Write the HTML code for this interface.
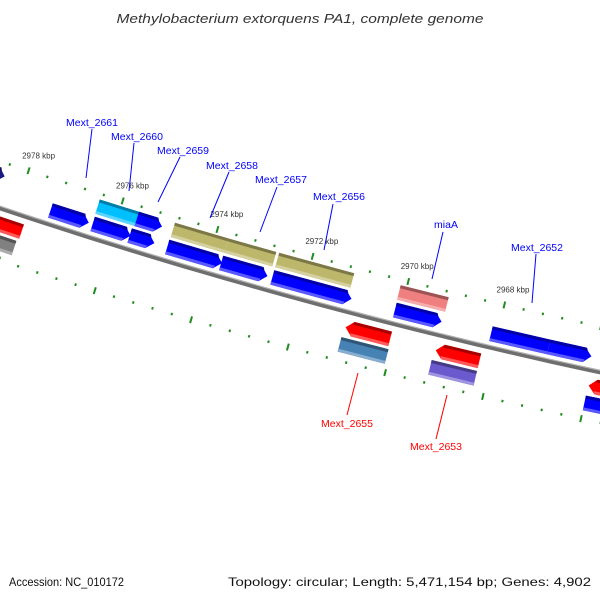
<!DOCTYPE html>
<html><head><meta charset="utf-8"><style>
html,body{margin:0;padding:0;background:#fff;}
svg{display:block;font-family:"Liberation Sans","DejaVu Sans",sans-serif;}
</style></head><body>
<svg id="map" width="600" height="600" viewBox="0 0 600 600" xmlns="http://www.w3.org/2000/svg">
<rect x="0" y="0" width="600" height="600" fill="#fff"/>
<text x="300" y="23" text-anchor="middle" font-size="13" font-style="italic" fill="#333" textLength="367" lengthAdjust="spacingAndGlyphs">Methylobacterium extorquens PA1, complete genome</text>
<g id="ticks"></g>
<g id="backbone"></g>
<g id="genes"></g>
<g id="labels"></g>
<text x="9" y="586" font-size="12" fill="#111" textLength="115" lengthAdjust="spacingAndGlyphs">Accession: NC_010172</text>
<text x="591" y="586" text-anchor="end" font-size="12" fill="#111" textLength="363" lengthAdjust="spacingAndGlyphs">Topology: circular; Length: 5,471,154 bp; Genes: 4,902</text>
</svg>
<script>
// ---- data (kbp) ----
const geneNames = ["navy-a","mext-2661","cyan-2660","blue-2660b","blue-2659","blue-2659b","olive-2658","olive-2657","olive-2656","blue-2658","blue-2657","blue-2656","miaA","blue-miaA","blue-2652a","blue-2652b","red-left","gray-left","red-2655","steel-2655","red-2653","purple-2653","red-right","blue-right"];
const geneStart = [2978.42,2976.52,2975.57,2975.64,2975.09,2975.14,2973.73,2972.73,2971.10,2973.72,2972.77,2971.02,2969.13,2969.15,2966.94,2966.06,2977.75,2977.79,2970.07,2970.05,2968.23,2968.23,2964.50,2964.50];
const geneEnd   = [2979.50,2977.33,2976.45,2976.44,2975.62,2975.66,2974.86,2973.73,2972.67,2974.87,2973.74,2972.67,2970.13,2970.12,2968.13,2966.94,2979.00,2979.00,2970.99,2971.02,2969.13,2969.16,2965.99,2966.00];
const geneRow   = [-31,-13,-31,-13,-31,-13,-31,-31,-31,-13,-13,-13,-31,-13,-13,-13,16,34,16,34,16,34,16,34];
const geneColor = ["#1a1a80","#0000ff","#00bfff","#0000ff","#0000ff","#0000ff","#bdb76b","#bdb76b","#bdb76b","#0000ff","#0000ff","#0000ff","#f08080","#0000ff","#0000ff","#0000ff","#ff0000","#808080","#ff0000","#4682b4","#ff0000","#6a5acd","#ff0000","#0000ff"];
const geneArrow = [1,1,0,1,1,1,0,0,0,1,1,1,0,1,0,1,1,0,1,0,1,0,1,0];
const tickMajor = [2964,2966,2968,2970,2972,2974,2976,2978,2980];
const tickLabelText = ["2978 kbp","2976 kbp","2974 kbp","2972 kbp","2970 kbp","2968 kbp"];
const tickLabelKbp = [2978,2976,2974,2972,2970,2968];

// ---- axis functions ----
const CX=1774, CY=-5104, R0=5600;
function ang(kbp){return (107.29+(kbp-2976)*0.51)*Math.PI/180;}
function pt(kbp,d){const a=ang(kbp),r=R0+d;return [CX+r*Math.cos(a),CY+r*Math.sin(a)];}
const NS="http://www.w3.org/2000/svg";
function mk(tag,attrs,parent){const e=document.createElementNS(NS,tag);for(const k in attrs)e.setAttribute(k,attrs[k]);parent.appendChild(e);return e;}
function ps(a){return a.map(p=>p[0].toFixed(1)+","+p[1].toFixed(1)).join(" ");}
function shade(hex,f){const n=parseInt(hex.slice(1),16);let r=n>>16,g=(n>>8)&255,b=n&255;
 if(f<0){r=r*(1+f);g=g*(1+f);b=b*(1+f);}else{r=r+(255-r)*f;g=g+(255-g)*f;b=b+(255-b)*f;}
 return "rgb("+Math.round(r)+","+Math.round(g)+","+Math.round(b)+")";}

// backbone
const bb=document.getElementById('backbone');
function arcPath(d,k1,k2,n){const a=[];for(let i=0;i<=n;i++){a.push(pt(k1+(k2-k1)*i/n,d));}return "M"+a.map(p=>p[0].toFixed(1)+" "+p[1].toFixed(1)).join(" L");}
let e=mk('path',{d:arcPath(0.8,2964,2980,40),fill:'none',stroke:'#6e6e6e','stroke-width':4},bb);


e=mk('path',{d:arcPath(-1.3,2964,2980,40),fill:'none',stroke:'#b0b0b0','stroke-width':1.2},bb);



// ticks
const tg=document.getElementById('ticks');
[-44,50].forEach(ring=>{
 for(let i=0;i<=40;i++){
  const k=2964+i*0.4;
  const major=tickMajor.some(m=>Math.abs(m-k)<1e-6);
  const L=major?7:2.5;
  const p1=pt(k,ring-L/2),p2=pt(k,ring+L/2);
  const t=mk('line',{x1:p1[0],y1:p1[1],x2:p2[0],y2:p2[1],stroke:'#1e8c1e','stroke-width':2},tg);
  
  
 }
});
tickLabelKbp.forEach((k,i)=>{
 const p=pt(k,-60);
 const t=mk('text',{x:p[0]+5,y:p[1]+3,'text-anchor':'middle','font-size':8,fill:'#333'},tg);
 t.textContent=tickLabelText[i];
 
 
});

// genes
const gg=document.getElementById('genes');
const H=15, AH=0.15;
geneStart.forEach((s,i)=>{
 const en=geneEnd[i], d=geneRow[i], up=d<0, c=geneColor[i];
 const t=d-H/2,b=d+H/2;
 let poly;
 if(geneArrow[i]){
  if(up){ // points toward lower kbp (right)
   poly=[pt(en,t),pt(s+AH,t),pt(s,d),pt(s+AH,b),pt(en,b)];
  } else {
   poly=[pt(s,t),pt(en-AH,t),pt(en,d),pt(en-AH,b),pt(s,b)];
  }
 } else poly=[pt(en,t),pt(s,t),pt(s,b),pt(en,b)];
 const g=mk('g',{},gg);
 
 
 mk('polygon',{points:ps(poly),fill:c},g);
 // top dark band
 const tb=[pt(en,t),pt(s+(geneArrow[i]&&up?AH*0.8:0),t),pt(s+(geneArrow[i]&&up?AH*0.6:0),t+3),pt(en-(geneArrow[i]&&!up?AH*0.6:0),t+3)];
 if(!up&&geneArrow[i]){tb[0]=pt(s,t);tb[1]=pt(en-AH,t);tb[2]=pt(en-AH*0.8,t+3);tb[3]=pt(s,t+3);}
 mk('polygon',{points:ps(tb),fill:shade(c,-0.35)},g);
 // bottom light band
 let lb;
 if(geneArrow[i]&&up) lb=[pt(en,b-3),pt(s+AH*0.8,b-3),pt(s+AH,b),pt(en,b)];
 else if(geneArrow[i]) lb=[pt(s,b-3),pt(en-AH*0.8,b-3),pt(en-AH,b),pt(s,b)];
 else lb=[pt(en,b-3),pt(s,b-3),pt(s,b),pt(en,b)];
 mk('polygon',{points:ps(lb),fill:shade(c,0.35)},g);
});

// labels
const lg=document.getElementById('labels');
const labText=["Mext_2661","Mext_2660","Mext_2659","Mext_2658","Mext_2657","Mext_2656","miaA","Mext_2652","Mext_2655","Mext_2653"];
const labTx=[92,137,183,232,281,339,446,537,347,436];
const labTy=[126,140,154,169,183,200,228,251,427,450];
const labLine=[[92,129,86,178],[134,143,129,191],[180,157,158,202],[229,172,210,218],[277,187,260,232],[333,204,324,250],[443,232,432,279],[536,254,532,303],[358,373,347,415],[447,395,436,439]];
labText.forEach((s,i)=>{
 const red=i>=8, col=red?'#ff0000':'#0000ff';
 const l=labLine[i];
 const ln=mk('line',{x1:l[0],y1:l[1],x2:l[2],y2:l[3],stroke:col,'stroke-width':1},lg);
 
 
 const t=mk('text',{x:labTx[i],y:labTy[i],'text-anchor':'middle','font-size':10.5,fill:col},lg);
 t.textContent=s;
 
 
});
</script>
</body></html>
